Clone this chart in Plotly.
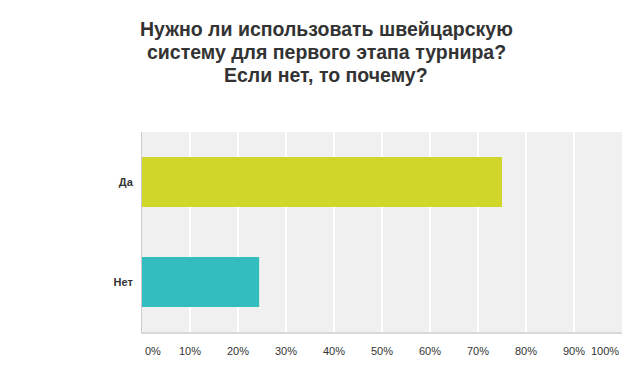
import plotly.graph_objects as go

categories = ["Да", "Нет"]
values = [75.0, 24.4]
colors = ["#D0D62A", "#34BDBE"]
tick_vals = [0, 10, 20, 30, 40, 50, 60, 70, 80, 90, 100]
tick_text = [f"{v}%" for v in tick_vals]
title_lines = ["Нужно ли использовать швейцарскую",
               "систему для первого этапа турнира?",
               "Если нет, то почему?"]

W, H = 633, 366
L, R, T, B = 142, 11, 131.7, 34.3
pw, ph = W - L - R, H - T - B

fig = go.Figure()
fig.add_trace(go.Bar(
    y=categories, x=values, orientation="h",
    marker=dict(color=colors, line=dict(width=0)),
    width=0.5, hoverinfo="skip",
))

FONT = "Liberation Sans, Arial, sans-serif"
annotations = []
for v, t in zip(tick_vals, tick_text):
    if v == 0:
        anchor, shift = "left", 1
    elif v == 100:
        anchor, shift = "right", -1
    else:
        anchor, shift = "center", 0
    annotations.append(dict(
        x=v, y=0, xref="x", yref="paper", yanchor="top", xanchor=anchor,
        xshift=shift, yshift=-11, text=t, showarrow=False,
        font=dict(family=FONT, size=11, color="#333333"),
    ))

for i, line in enumerate(title_lines):
    yc = 29 + 23 * i  # pixel center from top
    annotations.append(dict(
        x=(326 - L) / pw, y=(H - B - yc) / ph, xref="paper", yref="paper",
        text="<b>" + line + "</b>", showarrow=False,
        xanchor="center", yanchor="middle",
        font=dict(family=FONT, size=19.5, color="#333333"),
    ))

fig.update_layout(
    width=W, height=H,
    margin=dict(l=L, r=R, t=T, b=B, pad=0),
    paper_bgcolor="white", plot_bgcolor="#F0F0F0",
    showlegend=False, bargap=0.5,
    xaxis=dict(range=[0, 100], tickvals=tick_vals, showticklabels=False,
               showgrid=True, gridcolor="white", gridwidth=2, zeroline=False,
               showline=True, linecolor="#D9D9D9", linewidth=2, fixedrange=True),
    yaxis=dict(autorange="reversed", showgrid=False, zeroline=False,
               showline=True, linecolor="#CCCCCC", linewidth=1,
               tickfont=dict(family=FONT, size=11, color="#333333"),
               ticks="", ticklabelstandoff=6, fixedrange=True),
    annotations=annotations,
)
fig.update_yaxes(tickprefix="<b>", ticksuffix="</b>")
fig.write_html("out.html", config={"displayModeBar": False},
               post_script="document.body.style.margin='0px';")
